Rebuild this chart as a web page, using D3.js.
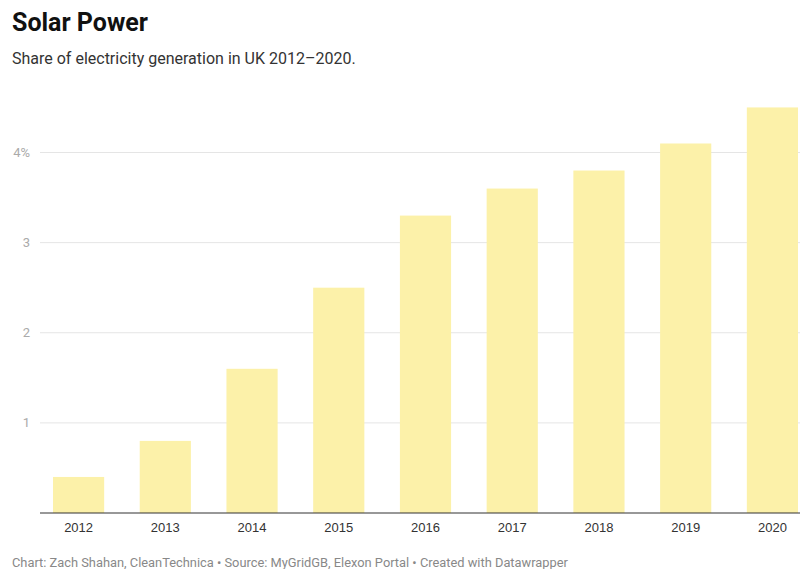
<!DOCTYPE html>
<html>
<head>
<meta charset="utf-8">
<script src="https://cdn.jsdelivr.net/npm/d3@7"></script>
<style>
  html, body { margin: 0; padding: 0; background: #fff; }
  svg { display: block; font-family: Roboto, "Noto Sans", sans-serif; }
</style>
</head>
<body>
<svg id="chart" width="800" height="569"></svg>
<script>
// Solar share of UK electricity generation, per year
const years = ["2012", "2013", "2014", "2015", "2016", "2017", "2018", "2019", "2020"];
const shares = [0.4, 0.8, 1.6, 2.5, 3.3, 3.6, 3.8, 4.1, 4.5];
const yTicks = [1, 2, 3, 4];
const yTickLabels = ["1", "2", "3", "4%"];

const svg = d3.select("#chart");

svg.append("text")
  .attr("x", 12).attr("y", 31)
  .attr("font-size", 25).attr("font-weight", 700).attr("fill", "#111")
  .text("Solar Power");

svg.append("text")
  .attr("x", 12).attr("y", 64)
  .attr("font-size", 16).attr("fill", "#333")
  .text("Share of electricity generation in UK 2012\u20132020.");

const x = d3.scaleBand().domain(years).range([53, 798]).paddingInner(0.41).paddingOuter(0);
const y = d3.scaleLinear().domain([0, 4]).range([513, 152.5]);

// gridlines and value labels
const grid = svg.append("g");
grid.selectAll("line").data(yTicks).join("line")
  .attr("x1", 40).attr("x2", 800)
  .attr("y1", d => y(d)).attr("y2", d => y(d))
  .attr("stroke", "#e5e5e5").attr("stroke-width", 1);
grid.selectAll("text").data(yTicks).join("text")
  .attr("x", 30).attr("y", d => y(d))
  .attr("dy", "0.35em").attr("text-anchor", "end")
  .attr("font-size", 13).attr("fill", "#aaa")
  .text((d, i) => yTickLabels[i]);

// bars
svg.append("g").selectAll("rect").data(years).join("rect")
  .attr("x", d => x(d))
  .attr("width", x.bandwidth())
  .attr("y", (d, i) => y(shares[i]))
  .attr("height", (d, i) => y(0) - y(shares[i]))
  .attr("fill", "#fcf1a9");

// baseline axis with year labels
const xAxis = svg.append("g").attr("transform", `translate(0,${y(0)})`)
  .call(d3.axisBottom(x).tickSize(0).tickPadding(10));
xAxis.select(".domain").remove();
xAxis.selectAll("text").attr("font-size", 13).attr("fill", "#333").attr("font-family", null);
svg.append("line")
  .attr("x1", 40).attr("x2", 800).attr("y1", y(0)).attr("y2", y(0))
  .attr("stroke", "#333").attr("stroke-width", 1.2);

svg.append("text")
  .attr("x", 12).attr("y", 567)
  .attr("font-size", 12.85).attr("fill", "#888")
  .text("Chart: Zach Shahan, CleanTechnica \u2022 Source: MyGridGB, Elexon Portal \u2022 Created with Datawrapper");
</script>
</body>
</html>
